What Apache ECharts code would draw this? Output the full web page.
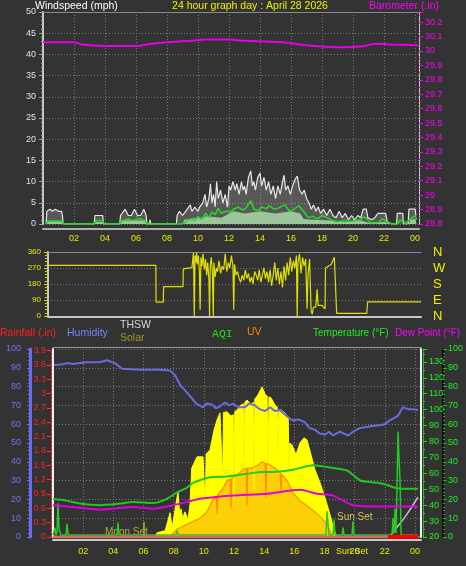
<!DOCTYPE html>
<html><head><meta charset="utf-8">
<script src="https://cdn.jsdelivr.net/npm/echarts@6/dist/echarts.min.js"></script>
<style>html,body{margin:0;padding:0;background:#333;}#c{width:466px;height:566px;}</style>
</head><body><div id="c"></div>
<script>
// ---------- DATA ----------
const windGust = [[0.2,0],[0.25,3],[0.45,3.5],[0.6,3],[0.8,3.5],[1.0,3],[1.2,3],[1.25,2],[1.3,0],
[3.3,0],[3.35,2],[3.85,2],[3.9,0],
[4.95,0],[5.0,2],[5.3,3.5],[5.5,2],[5.7,2],[5.9,3.5],[6.1,2],[6.3,2],[6.5,3.5],[6.65,2],[6.7,0],
[6.85,0],[6.9,1],[6.95,0],
[8.6,0],[8.65,2],[8.8,3],[9.0,2],[9.2,3],[9.3,3.5],[9.5,4.5],[9.6,3],[9.8,4],[10.0,3],[10.1,4],
[10.3,5],[10.45,7],[10.55,4],[10.7,6],[10.8,9.5],[10.9,5],[11.0,7],[11.1,4],[11.2,10],[11.3,6],[11.45,8],[11.6,5],[11.75,7],[11.9,4],[12.0,9],
[12.1,8],[12.25,10],[12.4,8],[12.5,9.5],[12.65,7],[12.8,10],[12.9,8],[13.0,9],[13.1,7],
[13.25,11],[13.4,12.5],[13.5,9],[13.6,10],[13.7,8],[13.85,11],[14.0,12],[14.1,9],[14.25,11],[14.4,8],
[14.55,10],[14.7,7],[14.85,9],[15.0,6],[15.15,9],[15.3,7],[15.45,10],[15.55,11.5],[15.65,8],[15.8,9],[15.95,7],[16.1,9],[16.25,10.5],[16.4,11.3],[16.55,8],[16.7,7],[16.85,8],[17.0,6],
[17.15,5],[17.3,3.5],[17.45,4.5],[17.6,3],[17.75,4],[17.9,2.5],[18.1,3.5],[18.3,2],[18.5,3.5],[18.7,2],
[18.9,1.5],[19.1,3],[19.3,1.5],[19.5,2.5],[19.7,1],[19.9,2],[20.1,1],[20.3,2],[20.5,1.5],[20.65,3.5],[20.85,3.5],[20.95,1.5],[21.2,1],[21.4,1.5],[21.6,2.5],[22.1,2.5],[22.2,0.5],[22.5,0],[22.8,0],[22.85,2.5],[23.2,2.5],[23.25,0],[23.55,0],[23.6,3.5],[24.0,3.5],[24.05,2]];
const windAvg = [[0.2,0],[0.3,0.7],[1.2,0.7],[1.3,0],[3.3,0],[3.4,0.8],[3.85,0.8],[3.95,0],[4.95,0],[5.05,0.7],[5.5,1.2],[5.8,0.8],[6.2,1.3],[6.6,0.8],[6.7,0],
[9.0,0],[9.2,0.5],[9.5,1.2],[9.8,0.8],[10.0,1.7],[10.2,1.2],[10.5,2.5],[10.7,1.5],[10.9,2.8],[11.1,2.2],[11.3,3.7],[11.5,2.5],[11.8,3],[12.1,2.8],[12.3,3.5],[12.6,4],[12.9,3.3],[13.1,3.8],[13.4,5.5],[13.6,3.5],[13.9,3.2],[14.1,4],[14.4,3.6],[14.6,4.3],[14.9,3.5],[15.2,3.8],[15.6,4.5],[15.9,3],[16.2,3.5],[16.5,4.3],[16.8,3],[17.1,1.5],[17.4,1.8],[17.7,1.2],[18.0,2],[18.3,1.5],[18.7,0.8],[19.0,0.5],[19.4,0.8],[19.8,0.6],[20.2,0.9],[20.5,1],[20.7,1.7],[20.9,1.2],[21.1,0.3],[21.6,0.3],[21.9,1.2],[22.2,0.5],[22.5,0],[22.9,0],[23.0,1],[23.2,0.5],[23.5,0.5],[23.8,1.5],[24.0,2],[24.1,1]];
const windLow = [[0.25,0],[0.3,0.6],[1.2,0.6],[1.3,0],[3.35,0],[3.4,0.5],[3.85,0.5],[3.9,0],[5.0,0],[5.05,0.8],[6.65,0.8],[6.7,0],
[9.0,0],[9.1,1],[10.0,1.5],[10.2,1],[10.5,1.8],[11.5,1.5],[12.0,2.5],[12.3,3],[13.0,2.5],[14.0,3],[15.0,2.5],[16.0,3],[16.6,2.5],[16.8,1.2],[17.5,1],[18.5,0.8],[19.5,0.5],[20.5,0.8],[21.0,0.3],[22.0,0.5],[22.5,0],[23.6,0],[23.7,1],[24.0,1.2],[24.1,0]];
const barometer = [[0,30.06],[2.0,30.06],[2.5,30.045],[4.0,30.035],[6.0,30.035],[7.0,30.05],[8.0,30.06],[9.5,30.07],[10.5,30.08],[12.0,30.08],[13.0,30.07],[14.5,30.065],[15.5,30.06],[16.5,30.045],[17.5,30.035],[19.0,30.025],[20.5,30.03],[21.5,30.05],[22.5,30.045],[24.2,30.04]];
const windDir = [[0,285],[6.97,285],[6.98,78],[7.45,78],[7.47,165],[8.72,165],[8.74,265],[9.3,272],[9.4,355],[9.45,0],[9.5,340],[9.55,300],[9.6,355],[9.65,290],[9.72,340],[9.78,250],[9.83,35],[9.88,330],[9.95,280],[10.02,350],[10.1,260],[10.18,320],[10.25,230],[10.32,300],[10.4,200],[10.44,0],[10.48,280],[10.55,330],[10.62,250],[10.68,0],[10.72,300],[10.8,220],[10.88,270],[10.95,250],[11.05,310],[11.15,240],[11.25,280],[11.35,260],[11.45,350],[11.55,250],[11.65,300],[11.75,270],[11.85,340],[11.95,280],[12.0,35],[12.05,290],[12.15,230],[12.25,250],[12.35,210],[12.45,190],[12.55,230],[12.65,200],[12.75,260],[12.85,210],[12.95,240],[13.05,190],[13.15,220],[13.25,180],[13.35,250],[13.45,230],[13.55,200],[13.65,260],[13.75,190],[13.85,230],[13.95,270],[14.05,210],[14.15,250],[14.25,190],[14.35,260],[14.45,170],[14.55,230],[14.65,300],[14.75,200],[14.85,270],[14.95,180],[15.05,250],[15.15,160],[15.25,280],[15.35,200],[15.45,300],[15.55,230],[15.65,330],[15.75,250],[15.85,310],[15.95,270],[16.05,340],[16.1,0],[16.15,300],[16.25,350],[16.35,240],[16.45,330],[16.55,280],[16.65,320],[16.74,40],[16.8,230],[16.9,320],[17.0,30],[17.07,10],[17.15,50],[17.3,50],[17.39,150],[17.45,60],[17.7,60],[17.9,40],[17.93,270],[18.1,280],[18.3,290],[18.5,330],[18.6,320],[18.65,15],[20.6,15],[20.65,80],[24.1,80]];
const directionLabels = {0:'N',90:'E',180:'S',270:'W',360:'N'};
const humidity = [[0.07,91.5],[0.5,91.8],[1.06,92.5],[1.3,92],[2.19,93],[3.1,93],[3.58,94],[4.1,92.5],[4.58,89.5],[5.77,89],[7.1,89],[7.76,88.5],[8.09,86],[8.42,81],[8.75,78],[9.08,75],[9.5,71],[9.95,69],[10.2,71],[10.54,70.5],[10.8,68.5],[11.07,69.5],[11.4,71.5],[11.7,70],[11.94,71],[12.3,69],[12.73,69],[13.0,71],[13.4,70],[13.7,68],[14.06,67],[14.4,69],[14.7,67],[15.05,67.5],[15.4,65],[15.7,63],[15.92,62],[16.3,62.5],[16.71,61],[17.0,58],[17.37,57],[17.7,55],[18.04,54.5],[18.3,56],[18.57,54],[19.03,56],[19.3,55],[19.56,54],[19.9,56],[20.36,58],[20.8,58.5],[21.15,59],[21.6,59.5],[22.02,60],[22.3,62],[22.55,63],[22.88,64.5],[23.05,67],[23.21,69],[23.54,68],[23.9,68],[24.2,67.5]];
const temperature = [[0,43.8],[0.8,43],[1.79,41],[3.12,40],[4.44,41],[5.31,42],[6.63,41.3],[7.56,44],[8.22,48],[8.89,51],[9.28,54],[10.41,57.6],[11.54,58],[12.86,59.7],[13.73,60.8],[14.85,61],[15.92,62.3],[17.24,65],[18.17,64],[19.5,61.8],[20.36,55.5],[21.02,54.5],[21.88,53.5],[22.55,51.3],[23.21,50.3],[24.2,50.3]];
const dewPoint = [[0,40],[1.79,38.4],[3.12,37.2],[5.31,38.8],[6.63,37.8],[7.96,39.9],[8.89,42],[9.75,44],[11.94,46],[14.19,47.2],[16.4,49.7],[17.5,47.2],[18.57,46],[19.89,40],[21.88,39.2],[24.2,39.2]];
const solar = [[0,0],[6.76,0],[6.9,27],[7.43,40],[7.6,97],[7.76,155],[7.9,59],[8.2,240],[8.29,289],[8.4,142],[8.49,180],[8.6,120],[8.75,161],[8.95,110],[9.08,206],[9.2,440],[9.28,448],[9.55,512],[9.95,512],[10.05,520],[10.1,174],[10.15,530],[10.41,556],[10.68,684],[10.88,748],[11.07,792],[11.2,790],[11.25,365],[11.3,795],[11.54,799],[11.8,773],[11.95,780],[12.0,238],[12.05,800],[12.2,811],[12.47,843],[12.62,850],[12.67,429],[12.72,860],[12.86,875],[13.13,849],[13.28,860],[13.33,301],[13.38,880],[13.59,907],[13.86,958],[14.06,913],[14.2,900],[14.26,429],[14.32,895],[14.46,888],[14.72,843],[14.87,830],[14.92,525],[14.97,815],[15.12,811],[15.38,792],[15.6,760],[15.65,397],[15.7,600],[15.85,588],[16.11,525],[16.38,601],[16.64,633],[16.84,620],[17.11,525],[17.37,429],[17.71,346],[18.04,250],[18.37,142],[18.63,47],[18.83,0],[24.3,0]];
const uvIndex = [[7.76,0],[8.22,0.5],[9.08,0.9],[9.75,1.2],[10.2,1.6],[10.61,2.4],[10.83,2.5],[10.88,1.5],[10.93,2.7],[11.21,3.0],[11.54,3.6],[11.75,3.7],[11.8,1.8],[11.85,3.8],[12.14,3.9],[12.6,4.3],[12.81,4.4],[12.86,2.0],[12.91,4.4],[13.2,4.4],[13.59,4.6],[13.86,4.8],[14.07,4.7],[14.12,2.5],[14.17,4.7],[14.39,4.6],[14.85,4.3],[15.07,4.1],[15.12,2.8],[15.17,4.0],[15.52,3.6],[15.92,2.8],[16.38,2.3],[16.84,2.0],[17.24,1.7],[17.71,1.3],[18.17,0.8],[18.57,0]];
const aqi = [[0,1],[0.13,5],[0.2,1],[0.27,3],[0.33,18],[0.4,4],[0.53,1],[0.86,1],[0.93,7],[1.0,1],[4.25,1],[4.31,7.7],[4.38,1],[8.15,1],[8.22,3.4],[8.3,1],[10.0,1],[10.08,2],[10.15,1],[18.1,1],[18.17,13.7],[18.3,1],[18.57,1],[18.63,9.4],[18.7,1],[19.17,1],[19.23,5],[19.3,1],[19.83,1],[19.89,8.5],[19.96,1],[22.48,1],[22.55,10],[22.62,2],[22.68,15],[22.75,2],[22.82,2],[22.88,56],[22.94,42],[23.01,30],[23.08,1],[24.2,1]];
const thsw = [[22.3,20],[22.8,26],[23.3,32],[23.8,39],[24.2,45]];
const rain = [[0,0],[22.2,0],[22.25,0.01],[24.2,0.01]];
const rainStartHour = 22.2;
const moonSetMarker = [[6.03,0],[6.03,95]];

// ---------- HELPERS ----------
const FONT = 'Liberation Sans';
const dotted = {show:true, lineStyle:{color:'#7a7a7a', type:[1,2], width:1}};
function hourLabel(v){ const r=Math.round(v); if(Math.abs(v-r)>1e-6||r<=0||r%2) return ''; const h=r%24; return (h<10?'0':'')+h; }
function dec1(v){ return String(parseFloat(v.toFixed(1))); }
const rainDry = rain.filter(p => p[0] <= rainStartHour);
const rainWet = rain.filter(p => p[0] >= rainStartHour);
function line(color, width, type){ return {show:true, onZero:false, lineStyle:{color:color, width:width, type:type||'solid'}}; }

const chart = echarts.init(document.getElementById('c'), null, {renderer:'canvas'});
function txt(text,x,y,fill,size,align,family){
  return {type:'text', x:x, y:y, silent:true,
    style:{text:text, fill:fill, fontSize:size, fontFamily:family||FONT, verticalAlign:'middle', align:align||'left'}};
}

const option = {
  backgroundColor:'#333333',
  animation:false,
  textStyle:{fontFamily:FONT},
  grid:[
    {left:43, right:47, top:12, height:212},
    {left:48, right:45, top:252, height:64},
    {left:53, right:45, top:349, height:188}
  ],
  xAxis:[
    {gridIndex:0, type:'value', min:0, max:24.25, interval:2, offset:5,
      axisLine:line('#b0b0b0',2), axisTick:{show:false},
      axisLabel:{color:'#e8e800', fontSize:9, margin:5, formatter:hourLabel, showMinLabel:false, showMaxLabel:false},
      splitLine:dotted},
    {gridIndex:0, type:'value', position:'top', min:0, max:24.25, axisLine:line('#8a8a8a',1), axisTick:{show:false}, axisLabel:{show:false}, splitLine:{show:false}},
    {gridIndex:1, type:'value', min:0, max:24.1, offset:1,
      axisLine:line('#c8c8c8',2), axisTick:{show:false}, axisLabel:{show:false}, splitLine:{show:false}},
    {gridIndex:1, type:'value', position:'top', min:0, max:24.1, axisLine:line('#8a8a8a',1), axisTick:{show:false}, axisLabel:{show:false}, splitLine:{show:false}},
    {gridIndex:2, type:'value', min:0, max:24.4, interval:2, offset:3,
      axisLine:line('#c8c8c8',2), axisTick:{show:false},
      axisLabel:{color:'#e8e800', fontSize:9, margin:7, formatter:hourLabel, showMinLabel:false, showMaxLabel:false},
      splitLine:dotted},
    {gridIndex:2, type:'value', position:'top', min:0, max:24.4, offset:2, axisLine:line('#9a9a9a',1), axisTick:{show:false}, axisLabel:{show:false}, splitLine:{show:false}}
  ],
  yAxis:[
    {gridIndex:0, type:'value', min:0, max:50, interval:5, position:'left',
      axisLine:line('#c8c8c8',2),
      axisTick:{show:true, length:4, lineStyle:{color:'#a0a0a0'}},
      minorTick:{show:true, splitNumber:5, length:2, lineStyle:{color:'#a0a0a0'}},
      axisLabel:{color:'#d2e4f6', fontSize:9, margin:7},
      splitLine:dotted},
    {gridIndex:0, type:'value', min:28.8, max:30.27, interval:0.1, position:'right',
      axisLine:line('#d8d8d8',1,[2,1]),
      axisTick:{show:true, length:4, lineStyle:{color:'#ff00ff'}},
      minorTick:{show:true, splitNumber:2, length:2, lineStyle:{color:'#ff00ff'}},
      axisLabel:{color:'#ff00ff', fontSize:9, margin:6, formatter:dec1, showMaxLabel:false},
      splitLine:{show:false}},
    {gridIndex:1, type:'value', min:0, max:360, interval:90, position:'left',
      axisLine:line('#c8c8c8',2),
      axisTick:{show:true, length:4, lineStyle:{color:'#d8d800'}},
      minorTick:{show:true, splitNumber:5, length:3, lineStyle:{color:'#d8d800'}},
      axisLabel:{color:'#e8e800', fontSize:8, margin:7},
      splitLine:dotted},
    {gridIndex:1, type:'value', min:0, max:360, interval:90, position:'right',
      axisLine:{show:false, onZero:false}, axisTick:{show:false},
      axisLabel:{color:'#f0f000', fontSize:13, margin:12, formatter:v=>directionLabels[v]||''},
      splitLine:{show:false}},
    {gridIndex:2, type:'value', min:0, max:100, interval:10, position:'left', offset:23,
      axisLine:line('#6b6bee',3),
      axisTick:{show:true, length:3, lineStyle:{color:'#7070ee'}},
      minorTick:{show:true, splitNumber:5, length:2, lineStyle:{color:'#7070ee'}},
      axisLabel:{color:'#7474ee', fontSize:9, margin:9},
      splitLine:dotted},
    {gridIndex:2, type:'value', min:0, max:3.935, interval:0.3, position:'left', offset:2,
      axisLine:line('#ff3030',1,[2,2]),
      axisTick:{show:true, length:4, lineStyle:{color:'#ff3030'}},
      axisLabel:{color:'#ff2020', fontSize:9, margin:5, formatter:dec1, showMaxLabel:false},
      splitLine:{show:false}},
    {gridIndex:2, type:'value', min:0, max:1200, position:'left', offset:0,
      axisLine:line('#f0f0f0',2), axisTick:{show:false}, axisLabel:{show:false}, splitLine:{show:false}},
    {gridIndex:2, type:'value', min:20, max:138.1, interval:10, position:'right', offset:2,
      axisLine:line('#22cc22',1,[2,1]),
      axisTick:{show:true, length:4, lineStyle:{color:'#22dd22'}},
      minorTick:{show:true, splitNumber:2, length:2, lineStyle:{color:'#22dd22'}},
      axisLabel:{color:'#22ee22', fontSize:9, margin:6, showMaxLabel:false},
      splitLine:{show:false}},
    {gridIndex:2, type:'value', min:0, max:100, interval:10, position:'right', offset:22,
      axisLine:line('#0a0a0a',2),
      axisTick:{show:true, length:4, lineStyle:{color:'#11bb11'}},
      minorTick:{show:true, splitNumber:5, length:2, lineStyle:{color:'#11bb11'}},
      axisLabel:{color:'#22ee22', fontSize:9, margin:5},
      splitLine:{show:false}},
    {gridIndex:2, type:'value', min:0, max:12, position:'right', offset:0,
      axisLine:line('#f0f0f0',2), axisTick:{show:false}, axisLabel:{show:false}, splitLine:{show:false}}
  ],
  series:[
    {type:'line', name:'Gust', xAxisIndex:0, yAxisIndex:0, data:windGust, symbol:'none',
      lineStyle:{color:'#e6e6e6', width:1.2}, areaStyle:{color:'rgba(205,205,205,0.35)'}},
    {type:'line', name:'Low', xAxisIndex:0, yAxisIndex:0, data:windLow, symbol:'none',
      lineStyle:{width:0}, areaStyle:{color:'#a8d8a8', opacity:0.85}},
    {type:'line', name:'Wind', xAxisIndex:0, yAxisIndex:0, data:windAvg, symbol:'none',
      lineStyle:{color:'#22dd22', width:1.5}},
    {type:'line', name:'Barometer', xAxisIndex:0, yAxisIndex:1, data:barometer, symbol:'none', smooth:0.3,
      lineStyle:{color:'#e600e6', width:2}},
    {type:'line', name:'Direction', xAxisIndex:2, yAxisIndex:2, data:windDir, symbol:'none',
      lineStyle:{color:'#e0e000', width:1.2}},
    {type:'line', name:'Solar', xAxisIndex:4, yAxisIndex:6, data:solar, symbol:'none',
      lineStyle:{color:'#ffff00', width:1}, areaStyle:{color:'#ffff00', opacity:1}},
    {type:'line', name:'UV', xAxisIndex:4, yAxisIndex:9, data:uvIndex, symbol:'none',
      lineStyle:{color:'#ff8c00', width:1.2}, areaStyle:{color:'#f59010', opacity:0.42}},
    {type:'line', name:'THSW', xAxisIndex:4, yAxisIndex:7, data:thsw, symbol:'none',
      lineStyle:{color:'#c4c4c4', width:1.5}},
    {type:'line', name:'AQI', xAxisIndex:4, yAxisIndex:8, data:aqi, symbol:'none',
      lineStyle:{color:'#22cc22', width:1.5}},
    {type:'line', name:'Temperature', xAxisIndex:4, yAxisIndex:7, data:temperature, symbol:'none', smooth:0.2,
      lineStyle:{color:'#22c822', width:2}},
    {type:'line', name:'Dew Point', xAxisIndex:4, yAxisIndex:7, data:dewPoint, symbol:'none', smooth:0.2,
      lineStyle:{color:'#e000e0', width:2}},
    {type:'line', name:'Humidity', xAxisIndex:4, yAxisIndex:4, data:humidity, symbol:'none',
      lineStyle:{color:'#6a6ae0', width:2}},
    {type:'line', name:'Rain', xAxisIndex:4, yAxisIndex:5, data:rainDry, symbol:'none',
      lineStyle:{color:'#d86a6a', width:3}},
    {type:'line', name:'Rain', xAxisIndex:4, yAxisIndex:5, data:rainWet, symbol:'none',
      lineStyle:{color:'#ff0000', width:4}},
    {type:'line', name:'Moon Set', xAxisIndex:4, yAxisIndex:6, data:moonSetMarker, symbol:'none',
      lineStyle:{color:'#a09a30', width:2}}
  ],
  graphic:[
    txt('Windspeed (mph)', 35, 6, '#ffffff', 10.5),
    txt('24 hour graph day : April 28 2026', 250, 6, '#f0f000', 10.5, 'center'),
    txt('Barometer (.in)', 439, 6, '#ff00ff', 10.5, 'right'),
    txt('Rainfall (.in)', 0, 333, '#ff2020', 10.5),
    txt('Humidity', 67, 333, '#8080ff', 10.5),
    txt('THSW', 120, 325, '#d4d4d4', 10.5),
    txt('Solar', 120, 338, '#9a9a20', 10.5),
    txt('AQI', 212, 334, '#22dd22', 11.5, 'left', 'Liberation Mono'),
    txt('UV', 247, 332, '#ff8800', 10.5),
    txt('Temperature (°F)', 313, 333, '#22ee22', 10),
    txt('Dew Point (°F)', 395, 333, '#ff00ff', 10),
    txt('Moon Set', 105, 532, '#b8a840', 10),
    txt('Sun Set', 337, 517, '#d8c850', 10),
    txt('Sun Set', 352, 552, '#e8e800', 9, 'center')
  ]
};
chart.setOption(option);
</script></body></html>
